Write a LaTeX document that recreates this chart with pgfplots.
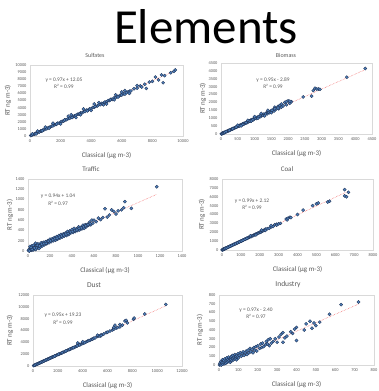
\documentclass[border=0pt]{standalone}
\usepackage{pgfplots}
\pgfplotsset{compat=1.18}
\usepackage{fontspec}
\setmainfont{Carlito}
\definecolor{ptfill}{RGB}{79,129,189}
\definecolor{ptedge}{RGB}{31,50,85}
\definecolor{trend}{RGB}{240,90,90}
\definecolor{labgray}{RGB}{89,89,89}
\definecolor{framegray}{RGB}{217,217,217}
\pgfplotsset{
 ylx/.initial=-20pt,
 panel/.style={scale only axis, anchor=south west,
  axis line style={draw=framegray, line width=0.5pt},
  major tick length=0pt, tick style={draw=none},
  tick label style={font=\fontsize{4.4}{5}\selectfont, text=labgray},
  xlabel style={font=\fontsize{7}{7}\selectfont, text=labgray, yshift=-3pt},
  every axis y label/.style={at={([xshift=\pgfkeysvalueof{/pgfplots/ylx}]axis description cs:0,0.5)}, rotate=90, anchor=center,
    font=\fontsize{7}{7}\selectfont, text=labgray},
  scaled ticks=false, /pgf/number format/assume math mode=true,
  /pgf/number format/1000 sep={},
  xlabel={Classical (µg m-3)}, ylabel={RT ng m-3)}, clip=false},
 pts/.style={only marks, mark=*, mark size=1.6pt, mark options={fill=ptfill, draw=ptedge, line width=0.35pt}},
 fit/.style={draw=trend, densely dotted, line width=0.5pt, mark=none},
}
\newcommand{\eqfont}{\fontsize{5.4}{7.5}\selectfont}
\begin{document}
\begin{tikzpicture}
\useasboundingbox (0pt,0pt) rectangle (379pt,391pt);
\node[anchor=base, inner sep=0pt, text depth=0pt, font=\fontsize{49}{49}\selectfont] at (206pt,347pt) {Elements};
% titles
\node[inner sep=0pt, font=\fontsize{6}{6}\selectfont, text=labgray] at (95pt,336pt) {Sulfates};
\node[inner sep=0pt, font=\fontsize{6}{6}\selectfont, text=labgray] at (286pt,336pt) {Biomass};
\node[inner sep=0pt, font=\fontsize{7}{7}\selectfont, text=labgray] at (91pt,222pt) {Traffic};
\node[inner sep=0pt, font=\fontsize{7}{7}\selectfont, text=labgray] at (287pt,222pt) {Coal};
\node[inner sep=0pt, font=\fontsize{7.5}{7.5}\selectfont, text=labgray] at (94pt,106pt) {Dust};
\node[inner sep=0pt, font=\fontsize{7.5}{7.5}\selectfont, text=labgray] at (288pt,106pt) {Industry};

% Sulfates
\begin{axis}[panel, ylx=-22pt, at={(30pt,255pt)}, width=153pt, height=71pt,
 xmin=0, xmax=10000, ymin=0, ymax=10000, xtick distance=2000, ytick distance=1000]
\addplot[pts] coordinates {(50,80) (120,100) (200,230) (300,260) (350,380) (450,420) (500,520) (600,560) (700,700) (750,690) (850,860) (900,830) (1000,1000) (1100,1020) (1200,1180) (1300,1240) (1400,1380) (1500,1420) (1600,1580) (1700,1620) (1800,1790) (1900,1800) (2000,1960) (2100,2080) (2200,2100) (2300,2280) (2400,2300) (2500,2460) (2600,2500) (2700,2680) (2800,2680) (2900,2850) (3000,2900) (3100,3050) (3200,3080) (3300,3250) (3400,3260) (3500,3420) (3600,3450) (3700,3640) (3800,3650) (3900,3820) (4000,3850) (4100,4020) (4200,4030) (4300,4200) (4400,4230) (4500,4400) (4600,4420) (4700,4600) (4800,4620) (4900,4780) (5000,4800) (5100,4990) (5200,5000) (5300,5180) (5400,5150) (5500,5380) (5600,5400) (5700,5560) (5800,5580) (5900,5760) (6000,5780) (6100,5950) (6200,5900) (6400,6200) (6500,6300) (6600,6350) (6800,6650) (7000,6750) (7200,7050) (7300,6900) (7500,7300) (7600,6700) (7800,7600) (8000,7700) (8200,8300) (8400,7900) (8600,8600) (8700,7500) (8800,8500) (9200,8900) (9400,9100) (9500,9300) (150,300) (400,300) (800,750) (1250,1100) (1750,1700) (2250,2250) (2750,2600) (3250,3150) (3750,3550) (4250,4150) (4750,4500) (5250,5100) (5750,5500) (6300,6100) (1500,1800) (2000,1700) (2500,2800) (3000,2600) (3500,3800) (4000,3600) (4500,4700) (5000,4500) (5500,5100) (6000,6200) (6500,6000) (7000,7100) (1000,1250) (500,700) (2700,3000) (3300,3000) (4200,4500) (4800,4400) (5600,5800) (6200,6400)};
\addplot[fit] coordinates {(0,12.05) (9500,9227)};
\node[font=\eqfont, text=labgray, align=center] at (axis cs:2220,7460) {y = 0.97x + 12.05\\R² = 0.99};
\end{axis}

% Biomass
\begin{axis}[panel, ylx=-18pt, at={(221pt,257pt)}, width=151pt, height=71pt,
 xmin=0, xmax=4500, ymin=0, ymax=4500, xtick distance=500, ytick distance=500]
\addplot[pts] coordinates {(20,15) (40,45) (60,50) (80,80) (100,90) (120,115) (140,125) (160,160) (180,165) (200,195) (220,200) (240,235) (260,240) (280,270) (300,280) (320,310) (340,315) (360,350) (380,355) (400,390) (420,395) (440,430) (460,430) (480,470) (500,470) (520,510) (540,505) (560,550) (580,545) (600,590) (620,580) (640,630) (660,620) (680,670) (700,655) (720,710) (740,690) (760,750) (780,730) (800,790) (820,770) (840,830) (860,800) (880,870) (900,840) (920,910) (940,880) (960,950) (980,920) (1000,990) (1050,980) (1080,1070) (1100,1030) (1150,1140) (1180,1100) (1200,1190) (1250,1170) (1280,1260) (1300,1200) (1350,1330) (1380,1280) (1400,1380) (1450,1350) (1480,1450) (1500,1400) (1550,1520) (1580,1450) (1600,1700) (1620,1550) (1650,1600) (1700,1750) (1720,1600) (1750,1800) (1800,1700) (1850,1780) (1900,2000) (1950,1850) (2000,2100) (2050,1950) (2100,2050) (2450,2350) (2700,2400) (2750,2750) (2800,2900) (2850,2850) (2900,2850) (2950,2830) (3750,3600) (4300,4150) (10,5) (30,20) (50,60) (70,60) (90,100) (110,95) (150,150) (250,225) (350,330) (450,440) (550,520) (650,600) (750,720) (850,820) (950,900) (1120,1100) (1320,1260) (1420,1400) (1520,1500) (500,560) (600,520) (800,870) (900,820) (1000,1100) (1100,1000) (1200,1300) (1300,1150) (1400,1500) (1500,1350) (1600,1600) (1700,1650) (1800,1900) (1950,2050) (2050,2080)};
\addplot[fit] coordinates {(0,-2.89) (4300,4082)};
\node[font=\eqfont, text=labgray, align=center] at (axis cs:1550,3230) {y = 0.95x - 2.89\\R² = 0.99};
\end{axis}

% Traffic
\begin{axis}[panel, ylx=-18pt, at={(28pt,140pt)}, width=154pt, height=72pt,
 xmin=0, xmax=1400, ymin=0, ymax=1400, xtick distance=200, ytick distance=200]
\addplot[pts] coordinates {(5,10) (10,30) (15,5) (20,60) (25,40) (30,15) (35,100) (40,50) (45,20) (50,80) (55,40) (60,120) (65,70) (70,30) (75,100) (80,60) (90,140) (95,90) (100,50) (110,130) (115,80) (120,160) (130,100) (140,170) (150,120) (160,180) (170,140) (180,200) (190,160) (200,230) (210,180) (220,240) (230,200) (240,260) (250,210) (260,280) (270,230) (280,300) (290,250) (300,320) (310,270) (320,330) (330,290) (340,350) (350,300) (360,380) (370,320) (380,390) (390,350) (400,420) (410,360) (420,440) (430,380) (440,430) (450,400) (460,470) (470,410) (480,460) (490,430) (500,500) (510,440) (520,510) (530,470) (540,520) (550,500) (560,560) (570,510) (580,600) (590,540) (600,600) (620,570) (640,640) (660,610) (680,650) (700,820) (720,660) (740,700) (760,800) (780,770) (800,720) (820,780) (850,800) (870,840) (880,960) (940,830) (1170,1250) (12,0) (18,90) (28,70) (38,30) (48,110) (58,60) (68,150) (85,110) (105,100) (125,130) (145,140) (165,150) (185,190) (205,200) (225,220) (245,240) (265,250) (285,270) (305,290) (325,310) (345,330) (365,340) (385,370) (405,380) (425,400) (445,410) (465,440) (485,450) (505,470) (525,490) (545,510) (565,530)};
\addplot[fit] coordinates {(0,1.04) (1170,1101)};
\node[font=\eqfont, text=labgray, align=center] at (axis cs:273,1001) {y = 0.94x + 1.04\\R² = 0.97};
\end{axis}

% Coal
\begin{axis}[panel, ylx=-20pt, at={(222pt,141pt)}, width=151pt, height=71pt,
 xmin=0, xmax=8000, ymin=0, ymax=8000, xtick distance=1000, ytick distance=1000]
\addplot[pts] coordinates {(10,10) (30,40) (50,45) (70,75) (100,95) (130,135) (150,150) (180,175) (200,210) (250,240) (280,290) (300,300) (350,340) (380,390) (400,400) (450,440) (480,490) (500,500) (550,540) (600,610) (650,640) (700,710) (750,740) (800,800) (850,840) (900,910) (950,940) (1000,1010) (1050,1030) (1100,1110) (1150,1140) (1200,1210) (1250,1230) (1300,1310) (1350,1330) (1400,1400) (1450,1440) (1500,1510) (1550,1530) (1600,1610) (1650,1630) (1700,1700) (1750,1740) (1800,1800) (1850,1820) (1900,1900) (1950,1930) (2000,2010) (2050,2000) (2100,2100) (2150,2150) (2200,2200) (2250,2220) (2300,2350) (2400,2400) (2500,2450) (2600,2600) (2700,2650) (2800,2850) (2900,2900) (3000,2950) (3100,3000) (3400,3500) (3450,3400) (3500,3600) (3600,3700) (3650,3650) (4000,4000) (4300,4500) (4800,5000) (5000,5200) (5100,5300) (5600,5400) (5700,5500) (6500,6800) (6500,6100) (6600,6000) (6700,6500) (20,25) (60,60) (90,85) (120,120) (160,165) (220,220) (320,330) (420,420) (520,520) (620,620) (720,720) (820,820) (920,920) (1020,1020) (1120,1120) (1220,1220) (1320,1320) (1500,1600) (1800,1700) (2100,2250) (2300,2200) (2600,2750) (2900,2800)};
\addplot[fit] coordinates {(0,2.12) (6700,6635)};
\node[font=\eqfont, text=labgray, align=center] at (axis cs:1590,5127) {y = 0.99x + 2.12\\R² = 0.99};
\end{axis}

% Dust
\begin{axis}[panel, ylx=-23pt, at={(33pt,25pt)}, width=149pt, height=71pt,
 xmin=0, xmax=12000, ymin=0, ymax=12000, xtick distance=2000, ytick distance=2000]
\addplot[pts] coordinates {(50,60) (100,120) (200,200) (300,300) (400,390) (500,500) (600,580) (700,680) (800,780) (900,870) (1000,980) (1100,1060) (1200,1170) (1300,1250) (1400,1350) (1500,1450) (1600,1540) (1700,1640) (1800,1720) (1900,1830) (2000,1920) (2100,2000) (2200,2120) (2300,2180) (2400,2310) (2500,2380) (2600,2500) (2700,2560) (2800,2690) (2900,2760) (3000,2870) (3100,2950) (3200,3070) (3300,3130) (3400,3250) (3500,3330) (3600,3440) (3700,3700) (3800,3600) (3900,3750) (4000,3800) (4100,3900) (4200,4000) (4300,4100) (4400,4200) (4500,4300) (4600,4350) (4700,4500) (4800,4550) (4900,4700) (5000,4750) (5200,5000) (5300,5100) (5400,5050) (5500,5300) (5700,5400) (5900,5650) (6000,5700) (6200,5900) (6400,6100) (6500,6200) (6600,6900) (6700,6400) (6800,6500) (7000,6600) (7200,6900) (7400,7600) (7500,7700) (7600,7300) (8100,7900) (8150,8100) (9000,8800) (10700,10400) (150,150) (250,260) (350,340) (450,440) (550,530) (650,630) (750,720) (850,820) (950,920) (1050,1010) (1150,1110) (1250,1200) (1350,1300) (1450,1400) (1550,1500) (1650,1580) (1750,1700) (2050,1980) (2350,2250) (2650,2540) (2950,2830) (3250,3100) (3550,3400) (3750,3560) (4150,3950) (3600,3900) (4000,4100) (5200,5200) (5500,5150) (6500,6500) (7000,7000)};
\addplot[fit] coordinates {(0,19.23) (10700,10184)};
\node[font=\eqfont, text=labgray, align=center] at (axis cs:2416,7944) {y = 0.95x + 19.23\\R² = 0.99};
\end{axis}

% Industry
\begin{axis}[panel, ylx=-19pt, at={(219pt,26pt)}, width=155pt, height=70pt,
 xmin=0, xmax=800, ymin=0, ymax=800, xtick distance=100, ytick distance=100]
\addplot[pts] coordinates {(2,0) (5,20) (8,5) (10,40) (12,0) (15,25) (18,60) (20,10) (22,30) (25,50) (28,15) (30,70) (32,35) (35,20) (38,55) (40,80) (42,30) (45,60) (48,40) (50,90) (52,50) (55,70) (58,30) (60,80) (62,60) (65,100) (68,50) (70,75) (72,110) (75,60) (78,90) (80,70) (82,120) (85,80) (88,100) (90,60) (92,110) (95,90) (98,130) (100,80) (105,110) (110,140) (115,100) (120,130) (125,150) (130,110) (135,140) (140,160) (145,120) (150,170) (155,140) (160,190) (165,150) (170,180) (175,140) (180,200) (185,170) (190,210) (195,160) (200,220) (210,190) (215,240) (220,200) (225,250) (230,210) (240,230) (245,270) (250,240) (255,290) (260,220) (265,300) (270,250) (280,270) (290,300) (300,260) (310,320) (320,350) (330,260) (330,370) (340,310) (350,330) (370,380) (380,360) (390,410) (400,280) (400,430) (440,400) (450,470) (470,500) (480,420) (490,480) (500,450) (520,490) (570,580) (630,690) (720,720)};
\addplot[fit] coordinates {(0,-2.4) (720,696)};
\node[font=\eqfont, text=labgray, align=center] at (axis cs:191,594) {y = 0.97x - 2.40\\R² = 0.97};
\end{axis}
\end{tikzpicture}
\end{document}
